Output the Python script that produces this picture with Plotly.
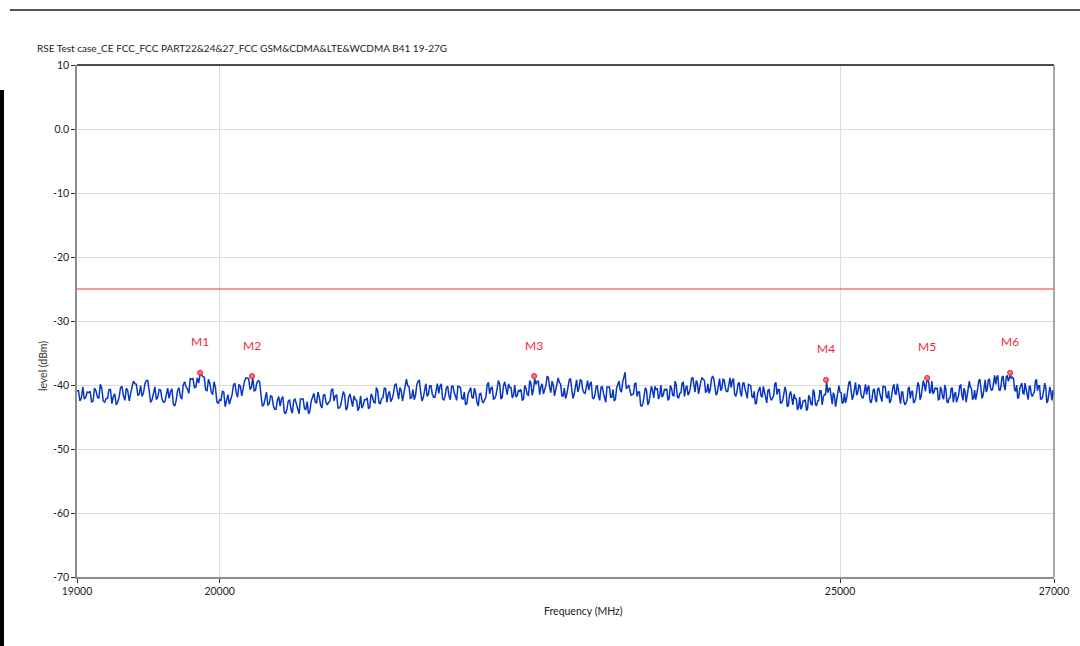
import math
import plotly.graph_objects as go

# sweep: 19 - 27 GHz, 10 MHz step
f_start = 19000
f_stop = 27000
f_step = 10
freq = list(range(f_start, f_stop + 1, f_step))

level = [
    -40.9, -40.9, -42.5, -42.0, -40.3, -42.2, -41.9, -41.1, -41.2, -41.0, -42.7, -42.5, -40.5, -40.9, -41.9, -42.1, -39.9, -40.5, -42.5, -42.7,
    -42.1, -42.1, -40.7, -40.7, -42.9, -41.8, -41.4, -43.1, -42.7, -41.9, -40.4, -40.2, -41.7, -42.4, -40.5, -40.9, -42.5, -41.2, -40.3, -39.4,
    -39.8, -39.9, -41.6, -41.5, -40.1, -41.8, -41.2, -39.8, -39.3, -39.3, -41.2, -42.7, -42.3, -41.0, -40.3, -42.3, -41.9, -40.7, -40.8, -42.2,
    -42.7, -42.6, -41.2, -40.5, -42.1, -41.0, -40.6, -43.0, -43.3, -42.4, -40.9, -40.4, -41.8, -42.2, -40.0, -39.5, -40.3, -40.6, -41.3, -39.0,
    -39.1, -39.0, -40.4, -40.3, -38.9, -39.7, -38.3, -38.4, -38.7, -38.8, -40.8, -40.9, -39.1, -39.8, -41.1, -41.5, -39.5, -40.4, -42.6, -42.9,
    -42.3, -42.4, -41.0, -41.1, -43.4, -42.1, -41.5, -43.0, -42.4, -41.5, -40.0, -39.7, -41.2, -41.9, -39.9, -40.2, -41.7, -40.4, -39.4, -38.9,
    -38.9, -39.0, -40.7, -40.4, -38.8, -40.9, -40.8, -39.6, -39.3, -39.5, -41.6, -43.3, -43.1, -41.8, -41.1, -43.2, -42.9, -41.7, -41.8, -43.2,
    -43.8, -43.8, -42.4, -41.8, -43.3, -42.2, -41.8, -44.2, -44.5, -43.8, -42.5, -42.3, -43.8, -44.4, -42.4, -42.2, -43.1, -43.6, -44.5, -42.2,
    -42.2, -42.2, -43.7, -43.8, -42.6, -44.5, -44.1, -42.5, -41.9, -41.3, -42.7, -42.8, -41.1, -41.9, -43.2, -43.6, -41.6, -41.5, -42.7, -43.1,
    -42.7, -42.5, -40.8, -40.6, -42.5, -41.7, -41.6, -43.6, -43.6, -43.2, -42.1, -41.0, -41.6, -43.9, -43.6, -41.9, -41.4, -42.2, -43.4, -41.7,
    -42.3, -42.4, -44.0, -43.5, -41.7, -43.6, -43.2, -42.3, -42.3, -42.0, -43.7, -43.5, -41.4, -41.8, -42.7, -42.8, -40.4, -40.9, -42.8, -42.9,
    -42.1, -42.0, -40.5, -40.5, -42.7, -41.5, -41.0, -42.6, -42.2, -41.4, -40.0, -39.8, -41.4, -42.2, -40.4, -40.9, -42.5, -41.3, -40.5, -39.1,
    -40.1, -40.3, -42.1, -42.0, -40.7, -42.3, -41.6, -40.0, -39.4, -39.3, -41.1, -42.5, -42.0, -40.6, -39.8, -41.8, -41.4, -40.1, -40.1, -41.4,
    -41.9, -41.9, -40.5, -39.8, -41.3, -40.2, -39.8, -42.1, -42.4, -41.7, -40.4, -40.2, -41.7, -42.3, -40.3, -40.1, -41.1, -41.6, -42.4, -40.2,
    -40.3, -40.4, -42.1, -42.2, -41.1, -43.1, -42.9, -41.4, -40.9, -40.4, -41.9, -42.1, -40.5, -41.3, -42.7, -43.3, -41.4, -41.3, -42.5, -42.8,
    -42.3, -41.9, -40.0, -39.6, -41.4, -40.5, -40.3, -42.2, -42.1, -41.6, -40.5, -39.3, -39.9, -42.2, -41.9, -40.1, -39.5, -40.3, -41.5, -39.8,
    -40.4, -40.4, -42.0, -41.6, -40.0, -41.9, -41.6, -40.8, -41.0, -40.7, -42.4, -42.2, -40.1, -40.5, -41.5, -41.6, -39.3, -39.8, -41.6, -40.7,
    -39.0, -39.9, -39.4, -39.4, -41.5, -40.3, -39.8, -41.4, -40.9, -40.1, -38.7, -38.8, -40.3, -41.2, -39.4, -40.0, -41.7, -40.6, -39.8, -38.9,
    -39.6, -39.9, -41.7, -41.7, -40.5, -42.1, -41.5, -39.9, -39.2, -39.0, -40.8, -42.1, -41.5, -40.1, -39.2, -41.1, -40.5, -39.2, -39.3, -40.7,
    -41.2, -41.3, -39.9, -39.3, -40.8, -39.8, -39.5, -41.9, -42.2, -41.6, -40.3, -40.1, -41.7, -42.4, -40.4, -40.2, -41.2, -41.8, -42.7, -40.3,
    -40.3, -40.3, -41.9, -41.9, -40.7, -42.5, -42.2, -40.5, -39.9, -39.4, -40.8, -41.1, -39.6, -38.8, -38.0, -40.5, -40.4, -40.0, -41.0, -41.6,
    -41.5, -41.4, -39.8, -39.7, -41.8, -41.1, -41.1, -43.2, -43.3, -42.8, -41.6, -40.4, -40.9, -43.1, -42.7, -40.9, -40.2, -40.9, -42.0, -40.2,
    -40.7, -40.6, -42.2, -41.7, -40.0, -41.9, -41.6, -40.7, -40.8, -40.6, -42.4, -42.1, -40.1, -40.5, -41.6, -41.7, -39.4, -40.0, -41.9, -42.0,
    -41.3, -41.2, -39.7, -39.6, -41.8, -40.5, -40.1, -41.6, -41.2, -40.4, -39.0, -38.8, -40.4, -41.1, -39.3, -39.7, -41.4, -40.2, -39.4, -38.9,
    -39.1, -39.3, -41.1, -41.0, -39.8, -41.3, -40.7, -39.1, -38.6, -39.0, -40.3, -41.6, -41.2, -39.8, -39.0, -40.9, -40.5, -39.1, -39.2, -40.5,
    -41.0, -41.0, -39.5, -38.9, -40.4, -39.3, -39.0, -41.4, -41.8, -41.1, -39.8, -39.6, -41.2, -41.8, -39.8, -39.6, -40.6, -41.2, -42.1, -39.9,
    -40.0, -40.1, -41.8, -42.0, -41.0, -43.0, -42.8, -41.3, -40.8, -40.3, -41.7, -41.9, -40.2, -41.0, -42.3, -42.8, -40.8, -40.7, -41.9, -42.4,
    -42.0, -41.7, -39.9, -39.6, -41.5, -40.7, -40.7, -42.8, -42.8, -42.4, -41.4, -40.3, -41.0, -43.4, -43.2, -41.5, -41.0, -41.9, -43.1, -41.4,
    -42.1, -42.2, -43.9, -43.5, -41.9, -43.8, -43.4, -42.5, -42.5, -42.3, -44.0, -43.7, -41.6, -42.0, -43.0, -43.1, -40.7, -41.2, -43.1, -43.2,
    -42.5, -42.4, -40.9, -40.9, -43.1, -41.9, -41.5, -41.5, -39.5, -41.2, -40.6, -40.5, -42.2, -43.0, -41.2, -41.7, -43.4, -42.2, -41.4, -40.1,
    -41.1, -41.2, -42.9, -42.7, -41.3, -42.8, -42.0, -40.3, -39.6, -39.4, -41.1, -42.3, -41.7, -40.4, -39.6, -41.6, -41.2, -40.0, -40.1, -41.5,
    -42.0, -42.0, -40.6, -39.9, -41.5, -40.4, -40.1, -42.4, -42.8, -42.1, -40.8, -40.6, -42.2, -42.7, -40.7, -40.4, -41.3, -41.8, -42.6, -40.2,
    -40.3, -40.3, -41.9, -42.0, -40.9, -42.8, -42.5, -41.0, -40.4, -39.9, -41.3, -41.5, -39.8, -40.7, -42.2, -42.9, -41.1, -41.1, -42.5, -43.1,
    -42.8, -42.4, -40.6, -40.3, -42.1, -41.1, -40.9, -42.8, -42.6, -42.1, -40.9, -39.6, -40.1, -42.3, -41.8, -40.0, -39.3, -40.0, -41.0, -39.6,
    -39.2, -39.5, -41.3, -41.0, -39.4, -41.4, -41.1, -40.4, -40.6, -40.5, -42.3, -42.2, -40.3, -40.8, -41.9, -42.2, -40.0, -40.6, -42.6, -42.8,
    -42.1, -42.0, -40.5, -40.5, -42.7, -41.5, -41.1, -42.7, -42.2, -41.5, -40.1, -40.0, -41.6, -42.4, -40.5, -41.0, -42.7, -41.5, -40.7, -39.4,
    -40.4, -40.5, -42.2, -42.1, -40.8, -42.3, -41.5, -39.9, -39.3, -39.1, -40.8, -42.1, -41.6, -40.1, -39.2, -41.1, -40.6, -39.2, -39.1, -40.4,
    -40.8, -40.7, -39.2, -38.5, -39.9, -38.8, -38.5, -40.7, -40.9, -40.2, -38.8, -38.6, -40.2, -40.8, -38.7, -38.5, -39.4, -38.7, -38.4, -39.0,
    -38.8, -39.0, -40.7, -41.0, -40.0, -42.1, -41.9, -40.5, -40.1, -39.7, -41.3, -41.4, -39.7, -40.5, -41.8, -42.3, -40.3, -40.2, -41.4, -41.8,
    -41.4, -41.1, -39.4, -39.1, -40.9, -40.1, -40.1, -42.2, -42.2, -41.8, -40.8, -39.7, -40.4, -42.8, -42.5, -40.8, -40.3, -41.2, -42.4, -40.8,
    -41.6,
]

limit = -25

marker_names = ["M1", "M2", "M3", "M4", "M5", "M6"]
marker_freq = [19860, 20234, 22395, 24874, 25796, 26577]
marker_level = [-38.1, -38.6, -38.6, -39.2, -38.9, -38.1]

y_ticks = [10, 0, -10, -20, -30, -40, -50, -60, -70]
y_ticktext = ["10", "0.0", "-10", "-20", "-30", "-40", "-50", "-60", "-70"]
x_ticks = [19000, 20000, 25000, 27000]

title = "RSE Test case_CE FCC_FCC PART22&24&27_FCC GSM&CDMA&LTE&WCDMA B41 19-27G"

FONT = "Lato, Segoe UI, Noto Sans, sans-serif"

fig = go.Figure()

fig.add_trace(go.Scatter(
    x=freq, y=level, mode="lines",
    line=dict(color="#0836c4", width=1.5),
    hoverinfo="skip", showlegend=False,
))

fig.add_trace(go.Scatter(
    x=marker_freq, y=marker_level, mode="markers",
    marker=dict(size=5, color="rgba(255,90,90,0.85)", line=dict(color="#e8202a", width=1)),
    showlegend=False,
))

for name, fx, lv in zip(marker_names, marker_freq, marker_level):
    fig.add_annotation(x=math.log10(fx), y=lv, text=name, showarrow=False,
                       yshift=31, font=dict(color="#f0283a", size=12, family=FONT))

# limit line
fig.add_shape(type="line", xref="paper", x0=0, x1=1, yref="y", y0=limit, y1=limit,
              line=dict(color="#f03030", width=1))

# plot frame: top black, right grey
fig.add_shape(type="line", xref="paper", yref="paper", x0=0, x1=1, y0=1, y1=1,
              line=dict(color="#111111", width=1.5))
fig.add_shape(type="line", xref="paper", yref="paper", x0=1, x1=1, y0=0, y1=1,
              line=dict(color="#8c8c8c", width=1.5))

# window decorations
fig.add_shape(type="line", xref="paper", yref="paper", x0=-0.0686, x1=1.03, y0=1.1074, y1=1.1074,
              line=dict(color="#555555", width=2))
fig.add_shape(type="rect", xref="paper", yref="paper", x0=-0.08, x1=-0.0747, y0=-0.14, y1=0.951,
              line=dict(width=0), fillcolor="#000000")

fig.add_annotation(text=title, xref="paper", yref="paper", x=-0.043, y=1.033,
                   xanchor="left", yanchor="middle", showarrow=False,
                   font=dict(size=10, color="#222222", family=FONT))
fig.add_annotation(text="Frequency (MHz)", xref="paper", yref="paper", x=0.518, y=-0.0664,
                   xanchor="center", yanchor="middle", showarrow=False,
                   font=dict(size=10.5, color="#222222", family=FONT))
fig.add_annotation(text="level (dBm)", xref="paper", yref="paper", x=-0.0348, y=0.412,
                   xanchor="center", yanchor="middle", showarrow=False, textangle=-90,
                   font=dict(size=10.5, color="#3a3430", family=FONT))

fig.update_layout(
    width=1080, height=646,
    margin=dict(l=77, r=26, t=65, b=69),
    paper_bgcolor="white", plot_bgcolor="white",
    font=dict(family=FONT, size=10.5, color="#222222"),
    xaxis=dict(
        type="log", range=[math.log10(f_start), math.log10(f_stop)],
        tickvals=x_ticks, ticktext=[str(t) for t in x_ticks],
        ticks="outside", ticklen=4, tickcolor="#333333",
        showgrid=True, gridcolor="#dcdcdc", gridwidth=1,
        showline=True, linecolor="#8c8c8c", linewidth=1.5,
        zeroline=False, fixedrange=True, automargin=False,
    ),
    yaxis=dict(
        range=[-70, 10], tickvals=y_ticks, ticktext=y_ticktext,
        ticks="outside", ticklen=4, tickcolor="#333333",
        showgrid=True, gridcolor="#dcdcdc", gridwidth=1,
        showline=True, linecolor="#8c8c8c", linewidth=1.5,
        zeroline=False, fixedrange=True, automargin=False,
    ),
    showlegend=False,
)

fig.write_html("out.html", config={"displayModeBar": False},
               post_script="document.body.style.margin='0';")
